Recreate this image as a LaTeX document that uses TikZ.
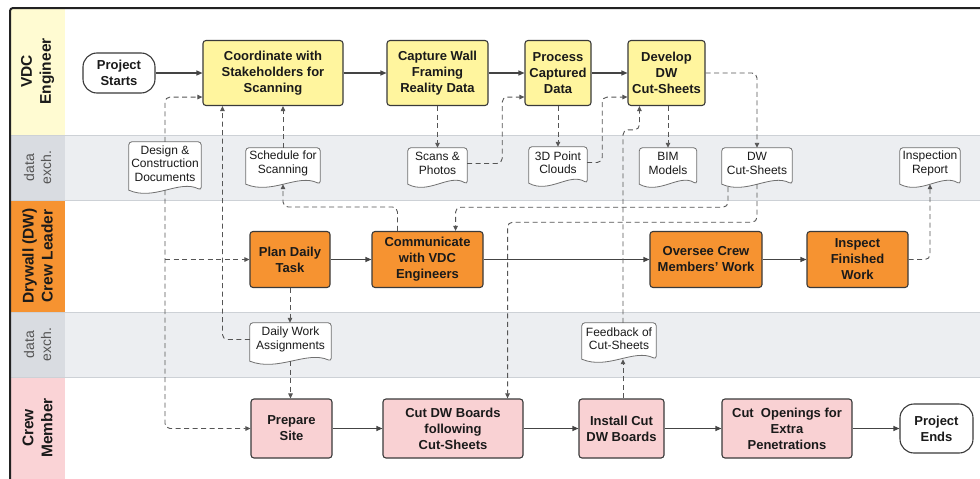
\documentclass[tikz,border=0pt]{standalone}
\usepackage{fontspec}
\setmainfont{Liberation Sans}
\usetikzlibrary{arrows.meta,calc}
\definecolor{ylw}{HTML}{FFF59E}
\definecolor{ylwlbl}{HTML}{FFFBD2}
\definecolor{org}{HTML}{F69331}
\definecolor{pnk}{HTML}{F9D1D3}
\definecolor{pnklbl}{HTML}{FAD3D6}
\definecolor{databg}{HTML}{ECEEF1}
\definecolor{datalblbg}{HTML}{D9DCE1}
\definecolor{sepc}{HTML}{CDD1D6}
\definecolor{boxline}{HTML}{3A3A3A}
\definecolor{txt}{HTML}{1A1A1A}
\definecolor{lblgray}{HTML}{555555}
\definecolor{docedge}{HTML}{707070}
\definecolor{flowc}{HTML}{444444}
\definecolor{dashc}{HTML}{555555}
\definecolor{framec}{HTML}{222222}
\pgfdeclarelayer{back}
\pgfdeclarelayer{mid}
\pgfsetlayers{back,mid,main}
\begin{document}
\begin{tikzpicture}[x=1pt,y=-1pt,
  box/.style={draw=boxline, line width=1.1pt, rounded corners=3pt, align=center, inner sep=2pt,
    font=\fontsize{13}{16}\selectfont\bfseries, text=txt},
  vdcbox/.style={box, fill=ylw},
  dwbox/.style={box, fill=org},
  crbox/.style={box, fill=pnk},
  term/.style={box, fill=white, rounded corners=14pt},
  docnode/.style={align=center, inner sep=1pt, font=\fontsize{12}{13.5}\selectfont, text=txt},
  docline/.style={draw=docedge, line width=0.8pt, fill=white},
  flow/.style={draw=flowc, line width=1.1pt, -{Triangle[length=6pt,width=5pt]}},
  dflow/.style={draw=dashc, line width=0.9pt, dash pattern=on 5pt off 3.5pt, rounded corners=5pt,
    -{Triangle[length=5pt,width=4.5pt]}},
  lanelbl/.style={rotate=90, align=center, font=\fontsize{15.5}{19}\selectfont\bfseries, text=txt},
  datalbl/.style={rotate=90, align=center, font=\fontsize{14}{17}\selectfont, text=lblgray},
]
\useasboundingbox (0,0) rectangle (980,479);

% ---------- lanes ----------
\begin{pgfonlayer}{back}
\fill[white] (0,0) rectangle (980,479);
\fill[ylwlbl] (10,8) rectangle (65,135);
\fill[databg] (65,135) rectangle (980,200);
\fill[datalblbg] (10,135) rectangle (65,200);
\fill[org] (10,200) rectangle (65,312);
\fill[databg] (65,312) rectangle (980,377);
\fill[datalblbg] (10,312) rectangle (65,377);
\fill[pnklbl] (10,377) rectangle (65,479);
\draw[sepc, line width=1pt] (10,135) -- (980,135);
\draw[sepc, line width=1pt] (10,200) -- (980,200);
\draw[sepc, line width=1pt] (10,312) -- (980,312);
\draw[sepc, line width=1pt] (10,377) -- (980,377);
\draw[framec, line width=2pt, rounded corners=3pt] (980,8) -- (10,8) -- (10,479);
\end{pgfonlayer}

% ---------- lane labels ----------
\node[lanelbl] (lvdc) at (37.5,71.5) {VDC\\Engineer};
\node[datalbl] (ld1) at (37.5,167.5) {data\\exch.};
\node[lanelbl] (ldw) at (37.5,256) {Drywall (DW)\\Crew Leader};
\node[datalbl] (ld2) at (37.5,344.5) {data\\exch.};
\node[lanelbl] (lcr) at (37.5,428) {Crew\\Member};

% ---------- process nodes ----------
\node[term, minimum width=72pt, minimum height=40pt] (start) at (119,73) {Project\\Starts};
\node[vdcbox, minimum width=140pt, minimum height=65pt] (coord) at (273,73) {Coordinate with\\Stakeholders for\\Scanning};
\node[vdcbox, minimum width=101pt, minimum height=65pt] (capture) at (437.5,73) {Capture Wall\\Framing\\Reality Data};
\node[vdcbox, minimum width=66pt, minimum height=65pt] (process) at (558,73) {Process\\Captured\\Data};
\node[vdcbox, minimum width=77pt, minimum height=65pt] (develop) at (666.5,73) {Develop\\DW\\Cut-Sheets};

\node[dwbox, minimum width=80pt, minimum height=56pt] (plan) at (290,259.5) {Plan Daily\\Task};
\node[dwbox, minimum width=111pt, minimum height=56pt] (comm) at (427.5,259.5) {Communicate\\with VDC\\Engineers};
\node[dwbox, minimum width=112pt, minimum height=56pt] (oversee) at (706,259.5) {Oversee Crew\\Members' Work};
\node[dwbox, minimum width=101pt, minimum height=56pt] (inspect) at (857.5,259.5) {Inspect\\Finished\\Work};

\node[crbox, minimum width=81pt, minimum height=59pt] (prep) at (291.5,428.5) {Prepare\\Site};
\node[crbox, minimum width=140pt, minimum height=59pt] (cutdw) at (453,428.5) {Cut DW Boards\\following\\Cut-Sheets};
\node[crbox, minimum width=85pt, minimum height=59pt] (install) at (621.5,428.5) {Install Cut\\DW Boards};
\node[crbox, minimum width=130pt, minimum height=59pt] (cutopen) at (787,428.5) {Cut~ Openings for\\Extra\\Penetrations};
\node[term, minimum width=73pt, minimum height=49pt] (end) at (936.5,428.5) {Project\\Ends};

% ---------- documents (node = upper part; wavy base 5pt below node) ----------
\node[docnode, minimum width=72pt, minimum height=43pt] (dcd) at (165,163.5) {Design \&\\Construction\\Documents};
\node[docnode, minimum width=74pt, minimum height=31pt] (sched) at (283,163.5) {Schedule for\\Scanning};
\node[docnode, minimum width=59pt, minimum height=31pt] (scans) at (437.5,163.5) {Scans \&\\Photos};
\node[docnode, minimum width=58pt, minimum height=31pt] (cloud) at (558,162.5) {3D Point\\Clouds};
\node[docnode, minimum width=57pt, minimum height=31pt] (bim) at (668,163.5) {BIM\\Models};
\node[docnode, minimum width=70pt, minimum height=31pt] (dwcs) at (757,163.5) {DW\\Cut-Sheets};
\node[docnode, minimum width=60pt, minimum height=31pt] (insp) at (930,163.5) {Inspection\\Report};
\node[docnode, minimum width=81pt, minimum height=33pt] (dwa) at (290.5,339.5) {Daily Work\\Assignments};
\node[docnode, minimum width=74pt, minimum height=31pt] (fb) at (619,338.5) {Feedback of\\Cut-Sheets};

\foreach \d in {dcd,sched,scans,cloud,bim,dwcs,insp,dwa,fb}{
  \coordinate (\d-b) at ([yshift=-5pt]\d.south);
}

\begin{pgfonlayer}{mid}
\foreach \d in {dcd,sched,scans,cloud,bim,dwcs,insp,dwa,fb}{
  \path[docline] let \p1=(\d.south west), \p2=(\d.north east), \n1={\x2-\x1} in
    [rounded corners=3pt] (\x1,\y1-5pt) -- (\x1,\y2) -- (\x2,\y2) -- (\x2,\y1-5pt) [sharp corners]
    .. controls (\x2-0.3*\n1,\y1+6pt) and (\x1+0.35*\n1,\y1-16pt) .. (\x1,\y1-5pt) -- cycle;
}
\end{pgfonlayer}

\coordinate (fbn) at ([xshift=4pt]fb.north);
\coordinate (fbs) at ([xshift=4pt]fb-b);

% ---------- solid flows ----------
\draw[flow] (start.east) -- (coord.west);
\draw[flow] (coord.east) -- (capture.west);
\draw[flow] (capture.east) -- (process.west);
\draw[flow] (process.east) -- (develop.west);
\draw[flow] (plan.east) -- (comm.west);
\draw[flow] (comm.east) -- (oversee.west);
\draw[flow] (oversee.east) -- (inspect.west);
\draw[flow] (prep.east) -- (cutdw.west);
\draw[flow] (cutdw.east) -- (install.west);
\draw[flow] (install.east) -- (cutopen.west);
\draw[flow] (cutopen.east) -- (end.west);

% ---------- dashed data flows ----------
\draw[dflow] (dcd.north) |- ([yshift=9pt]coord.south west);
\draw[dflow] (dcd-b) |- (prep.west);
\draw[dflow] (dcd-b |- plan.west) -- (plan.west);
\draw[dflow] (dwa.west) -| ([xshift=20pt]coord.south west);
\draw[dflow] (sched.north) -- (sched.north |- coord.south);
\draw[dflow] ([xshift=26pt]comm.north west) -- ++(0,-24) -| (sched-b);
\draw[dflow] (capture.south) -- (scans.north);
\draw[dflow] (scans.east) -- ++(35,0) |- ([yshift=9pt]process.south west);
\draw[dflow] (process.south) -- (process.south |- cloud.north);
\draw[dflow] (cloud.east) -- ++(15,0) |- ([yshift=9pt]develop.south west);
\draw[dflow] (bim.north |- develop.south) -- (bim.north);
\draw[dflow] (develop.east) -| (dwcs.north);
\draw[dflow] ([xshift=-29pt,yshift=-3pt]dwcs-b) -- ++(0,20) -| ([xshift=-28pt]comm.north east);
\draw[dflow] (dwcs-b) -- ++(0,38) -| ([xshift=-16pt]cutdw.north east);
\draw[dflow] (fbn) -- ++(0,-193) -| ([xshift=12pt]develop.south west);
\draw[dflow] (fbs |- install.north) -- (fbs);
\draw[dflow] (inspect.east) -| (insp-b);
\draw[dflow] (plan.south) -- (plan.south |- dwa.north);
\draw[dflow] (dwa-b) -- (dwa-b |- prep.north);
\end{tikzpicture}
\end{document}
